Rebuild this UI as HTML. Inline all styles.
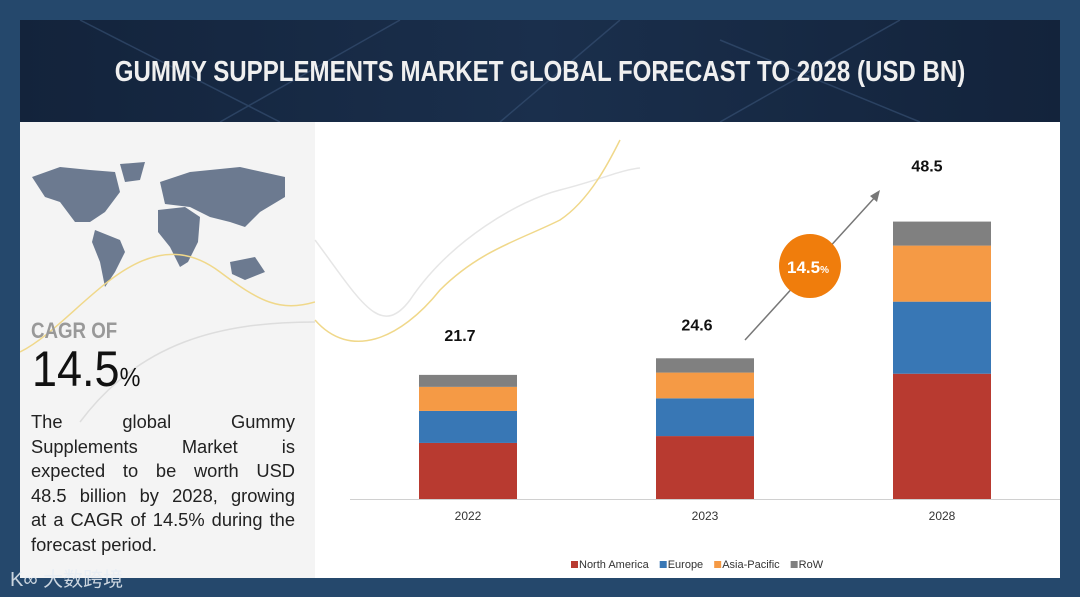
<!DOCTYPE html>
<html><head><meta charset="utf-8"><style>
*{margin:0;padding:0;box-sizing:border-box}
body{width:1080px;height:597px;background:#25486c;position:relative;overflow:hidden;font-family:"Liberation Sans",sans-serif}
#header{position:absolute;left:20px;top:20px;width:1040px;height:102px;background:linear-gradient(90deg,#13233b,#1a2f4c 50%,#13233b);}
#title{position:absolute;left:-10px;width:1060px;top:36px;text-align:center;color:#f0f0f0;font-size:29px;font-weight:bold;transform:scaleX(0.83);letter-spacing:0px}
#panel{position:absolute;left:20px;top:122px;width:1040px;height:456px;background:#fff}
#side{position:absolute;left:0;top:0;width:295px;height:456px;background:#f4f4f4}
#cagr-of{position:absolute;left:11px;top:196px;font-size:22px;color:#999;font-weight:bold;transform:scaleX(0.85);transform-origin:left}
#cagr-val{position:absolute;left:12px;top:218px;font-size:50px;color:#111;transform:scaleX(0.9);transform-origin:left}
#cagr-val span{font-size:26px}
#desc{position:absolute;left:11px;top:288px;width:264px;font-size:18.3px;line-height:24.5px;color:#222}
#desc div{text-align:justify;text-align-last:justify;white-space:nowrap}
#desc div.last{text-align-last:left}
#wm{position:absolute;left:10px;top:563px;color:#e8eef4;font-size:20px;font-family:"Liberation Sans","Noto Sans CJK SC",sans-serif;opacity:.85}
</style></head><body>
<div id="header">
<svg width="1040" height="102" style="position:absolute;left:0;top:0">
<path d="M60 0 L260 102 M380 0 L200 102 M600 0 L480 102 M700 20 L900 102 M880 0 L700 102" stroke="#3a5478" stroke-width="1.5" opacity=".6"/>
</svg>
<div id="title">GUMMY SUPPLEMENTS MARKET GLOBAL FORECAST TO 2028 (USD BN)</div>
</div>
<div id="panel">
<div id="side">
<svg width="295" height="170" style="position:absolute;left:0;top:30px">
<g fill="#6c7a90">
<path d="M12 25 L40 15 L70 18 L95 20 L100 40 L85 60 L70 70 L55 70 L40 50 L25 45 Z"/>
<path d="M100 12 L125 10 L120 28 L105 30 Z"/>
<path d="M75 78 L100 88 L105 100 L95 120 L85 135 L80 110 L72 90 Z"/>
<path d="M138 58 L165 55 L180 65 L178 90 L168 110 L160 115 L150 95 L138 80 Z"/>
<path d="M140 30 L170 20 L220 15 L265 25 L265 45 L240 60 L225 75 L210 70 L190 65 L170 55 L145 52 Z"/>
<path d="M210 110 L235 105 L245 120 L225 128 L212 122 Z"/>
</g>
</svg>
<svg width="295" height="456" style="position:absolute;left:0;top:0">
<path d="M0 230 C60 200 120 90 200 150 C240 180 260 190 295 180" stroke="#f0d88a" fill="none" stroke-width="1.5"/>
<path d="M60 300 C120 220 200 200 295 200" stroke="#ddd" fill="none" stroke-width="1.5"/>
</svg>
<div id="cagr-of">CAGR OF</div>
<div id="cagr-val">14.5<span>%</span></div>
<div id="desc">
<div>The global Gummy</div>
<div>Supplements Market is</div>
<div>expected to be worth USD</div>
<div>48.5 billion by 2028, growing</div>
<div>at a CAGR of 14.5% during the</div>
<div class="last">forecast period.</div>
</div>
</div>
</div>
<div id="wm">K∞ 大数跨境</div>
<svg id="chart" width="1080" height="597" style="position:absolute;left:0;top:0"></svg>
<script>
const categories=["2022","2023","2028"];
const totals=["21.7","24.6","48.5"];
const seriesNames=["North America","Europe","Asia-Pacific","RoW"];
const northAmerica=[9.8,11.0,21.9];
const europe=[5.6,6.6,12.6];
const asiaPacific=[4.2,4.5,9.8];
const row=[2.1,2.5,4.2];
const colors=["#b83a30","#3877b5","#f59a45","#808080"];
const NS="http://www.w3.org/2000/svg";
const svg=document.getElementById('chart');
const baseY=499,pxPer=5.72;
const xCenters=[468,705,942],barW=98;
const labelGap=[34,28,50],labelDx=[-8,-8,-15];
function y(v){return baseY-v*pxPer;}
function mk(t,a){const e=document.createElementNS(NS,t);for(const k in a)e.setAttribute(k,a[k]);svg.appendChild(e);return e;}
let c=mk('path',{d:'M315 240 C360 300 380 340 410 300 C450 240 520 200 560 190 C600 180 620 170 640 168',stroke:'#e6e6e6',fill:'none','stroke-width':1.5});


c=mk('path',{d:'M315 320 C350 360 400 340 440 290 C480 250 520 240 560 220 C590 200 610 160 620 140',stroke:'#f0d88a',fill:'none','stroke-width':1.5});


let ax=mk('line',{x1:350,x2:1060,y1:baseY+0.5,y2:baseY+0.5,stroke:'#d0d0d0','stroke-width':1});


const series=[northAmerica,europe,asiaPacific,row];
const keys=['north-america','europe','asia-pacific','row'];
categories.forEach((cat,i)=>{
  let acc=0;
  series.forEach((s,j)=>{
    const r=mk('rect',{x:xCenters[i]-barW/2,y:y(acc+s[i]),width:barW,height:s[i]*pxPer,fill:colors[j]});
    
    
    acc+=s[i];
  });
  const t=mk('text',{x:xCenters[i]+labelDx[i],y:y(acc)-labelGap[i],'font-size':16,'font-weight':'bold','text-anchor':'middle',fill:'#111','font-family':'Liberation Sans'});
  t.textContent=totals[i];
  
  
  const l=mk('text',{x:xCenters[i],y:520,'font-size':12,'text-anchor':'middle',fill:'#333','font-family':'Liberation Sans'});
  l.textContent=cat;
  
  
});
let ar=mk('line',{x1:745,y1:340,x2:877,y2:195,stroke:'#777','stroke-width':1.5});


let ah=mk('path',{d:'M880 190 L870 196 L877 202 Z',fill:'#777'});


let bub=mk('ellipse',{cx:810,cy:266,rx:31,ry:32,fill:'#f07d0c'});


let bt=mk('text',{x:808,y:273,'font-size':17,'font-weight':'bold','text-anchor':'middle',fill:'#fff','font-family':'Liberation Sans'});
bt.innerHTML='14.5<tspan font-size="10">%</tspan>';


let lx=571;
seriesNames.forEach((n,j)=>{
  const s=mk('rect',{x:lx,y:561,width:7,height:7,fill:colors[j]});
  
  
  const t=mk('text',{x:lx+8,y:568,'font-size':11,fill:'#333','font-family':'Liberation Sans'});
  t.textContent=n;
  
  
  lx+=8+t.getComputedTextLength()+11;
});
</script>
</body></html>
